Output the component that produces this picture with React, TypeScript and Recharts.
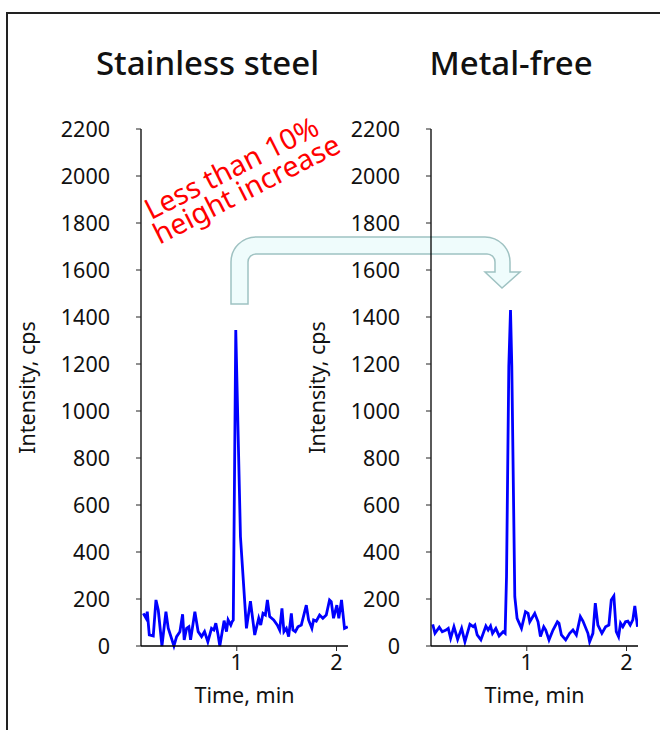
import { FC } from 'react';
import { Line, LineChart, XAxis, YAxis } from 'recharts';

// time (min) and intensity (cps)
const steelTime = [
  0.063, 0.09, 0.103, 0.123, 0.163, 0.19, 0.213, 0.25, 0.29, 0.313, 0.37, 0.397,
  0.43, 0.457, 0.473, 0.497, 0.52, 0.537, 0.58, 0.613, 0.647, 0.677, 0.71, 0.747,
  0.77, 0.79, 0.813, 0.83, 0.873, 0.897, 0.913, 0.94, 0.953, 0.965, 0.99, 1.037,
  1.097, 1.137, 1.18, 1.22, 1.24, 1.263, 1.287, 1.307, 1.33, 1.37, 1.407, 1.43,
  1.453, 1.473, 1.497, 1.52, 1.547, 1.563, 1.587, 1.613, 1.647, 1.697, 1.72, 1.753,
  1.77, 1.797, 1.83, 1.863, 1.897, 1.93, 1.947, 1.97, 2.003, 2.023, 2.05, 2.08, 2.113,
];
const steelIntensity = [
  139, 119, 146, 47, 43, 196, 153, 0, 146, 76, 0, 40,
  61, 135, 26, 75, 82, 26, 146, 61, 40, 61, 18, 75,
  68, 97, 47, 0, 108, 61, 111, 89, 103, 110, 1345, 465,
  75, 191, 47, 118, 89, 139, 132, 196, 125, 111, 89, 68,
  160, 61, 75, 40, 139, 68, 61, 82, 89, 174, 111, 75,
  111, 106, 132, 118, 132, 196, 189, 118, 174, 118, 196, 75, 82,
];

// metal-free trace
const freeTime = [
  0.057, 0.08, 0.123, 0.153, 0.19, 0.213, 0.237, 0.27, 0.307, 0.347, 0.38, 0.43,
  0.463, 0.48, 0.503, 0.54, 0.59, 0.613, 0.637, 0.657, 0.69, 0.723, 0.763, 0.783,
  0.797, 0.82, 0.837, 0.85, 0.88, 0.903, 0.947, 0.987, 1.013, 1.03, 1.08, 1.113,
  1.137, 1.17, 1.19, 1.223, 1.263, 1.307, 1.323, 1.347, 1.39, 1.43, 1.463, 1.497,
  1.537, 1.563, 1.613, 1.63, 1.663, 1.687, 1.713, 1.753, 1.79, 1.823, 1.847, 1.873,
  1.897, 1.92, 1.94, 1.963, 1.99, 2.013, 2.037, 2.063, 2.083, 2.11,
];
const freeIntensity = [
  92, 54, 80, 61, 68, 75, 33, 82, 28, 75, 18, 92,
  82, 89, 47, 26, 85, 68, 85, 54, 75, 43, 61, 54,
  295, 1189, 1430, 1189, 210, 118, 75, 146, 139, 103, 139, 103,
  40, 82, 68, 26, 68, 103, 97, 47, 26, 54, 68, 47,
  125, 106, 54, 18, 54, 182, 89, 54, 82, 89, 196, 213,
  61, 40, 97, 82, 103, 106, 89, 111, 170, 82,
];

const yTicks = [0, 200, 400, 600, 800, 1000, 1200, 1400, 1600, 1800, 2000, 2200];
const xTicks = [1, 2];

const FONT = '"Noto Sans", "Open Sans", sans-serif';

interface PanelProps {
  time: number[];
  intensity: number[];
  left: number;
}

const Panel: FC<PanelProps> = ({ time, intensity, left }) => {
  const data = time.map((t, i) => ({ t, v: intensity[i] }));
  return (
    <div style={{ position: 'absolute', left, top: 0 }}>
      <LineChart
        width={360}
        height={730}
        data={data}
        margin={{ top: 129, right: 12, bottom: 0, left: 0 }}
        style={{ fontFamily: FONT }}
      >
        <XAxis
          dataKey="t"
          type="number"
          domain={[0.04, 2.115]}
          ticks={xTicks}
          allowDataOverflow
          height={84}
          tickSize={5}
          tickMargin={4}
          tick={{ fontSize: 21.5, fill: '#111' }}
          axisLine={{ stroke: '#000', strokeWidth: 1.3 }}
          tickLine={{ stroke: '#222' }}
          label={{
            value: 'Time, min',
            position: 'insideBottom',
            offset: 27,
            style: { fontSize: 21.5, fill: '#111' },
          }}
        />
        <YAxis
          dataKey="v"
          type="number"
          domain={[0, 2200]}
          ticks={yTicks}
          interval={0}
          width={141}
          tickSize={5}
          tickMargin={26}
          tick={{ fontSize: 21.5, fill: '#111' }}
          axisLine={{ stroke: '#000', strokeWidth: 1.3 }}
          tickLine={{ stroke: '#222' }}
          label={{
            value: 'Intensity, cps',
            angle: -90,
            position: 'insideLeft',
            offset: 27,
            style: { fontSize: 21.5, fill: '#111', textAnchor: 'middle' },
          }}
        />
        <Line
          dataKey="v"
          type="linear"
          stroke="#0000ff"
          strokeWidth={2.8}
          dot={false}
          isAnimationActive={false}
        />
      </LineChart>
    </div>
  );
};

const App: FC = () => {
  return (
    <div
      style={{
        position: 'absolute',
        left: 0,
        top: 0,
        width: 660,
        height: 730,
        overflow: 'hidden',
        background: '#fff',
        fontFamily: FONT,
      }}
    >
      {/* frame + bent arrow sit underneath the charts */}
      <svg width={660} height={730} style={{ position: 'absolute', left: 0, top: 0 }}>
        <rect x={7} y={13} width={700} height={760} fill="none" stroke="#222" strokeWidth={2} />
        <path
          d="M231,304 L231,262 A25,25 0 0 1 256,237 L485,237 A25,25 0 0 1 510,262 L510,272 L520,272 L502,288 L485,272 L495,272 L495,262 A8,8 0 0 0 487,254 L256,254 A8,8 0 0 0 248,262 L248,304 Z"
          fill="#effcfc"
          stroke="#9fc2c2"
          strokeWidth={1.5}
        />
      </svg>
      <Panel time={steelTime} intensity={steelIntensity} left={0} />
      <Panel time={freeTime} intensity={freeIntensity} left={290} />
      <svg
        width={660}
        height={730}
        style={{ position: 'absolute', left: 0, top: 0, pointerEvents: 'none' }}
        fontFamily={FONT}
      >
        <text x={207.5} y={75} fontSize={33} fontWeight={500} textAnchor="middle" fill="#111">
          Stainless steel
        </text>
        <text x={511} y={75} fontSize={33} fontWeight={500} textAnchor="middle" fill="#111">
          Metal-free
        </text>
        <g fill="#ff0000" fontSize={28.5} textAnchor="middle">
          <text transform="translate(236,177) rotate(-27)">Less than 10%</text>
          <text transform="translate(251,198) rotate(-27)">height increase</text>
        </g>
      </svg>
    </div>
  );
};

export default App;
